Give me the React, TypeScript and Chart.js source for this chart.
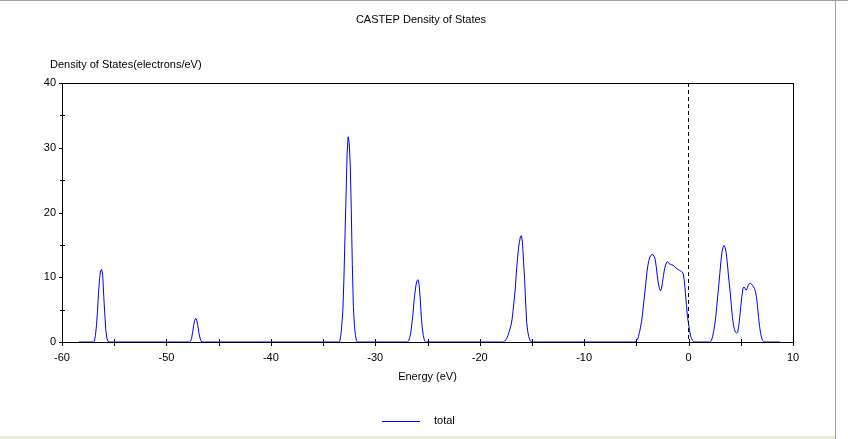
import React, { useEffect, useRef } from "react";
import { Chart, registerables } from "chart.js";

Chart.register(...registerables);

// ---- text ----
const chartTitle = "CASTEP Density of States";
const yAxisTitle = "Density of States(electrons/eV)";
const xAxisTitle = "Energy (eV)";
const seriesName = "total";

// ---- axes ----
const xMin = -60;
const xMax = 10;
const yMin = 0;
const yMax = 40;
const xMajorStep = 10;
const xMinorStep = 5;
const yMajorStep = 10;
const yMinorStep = 5;
const fermiLevel = 0;

// ---- data: [energy (eV), DOS (electrons/eV)] ----
const leadIn = [[-58.4, 0]];
const band1 = [
  [-57.0, 0], [-56.9, 0.1], [-56.8, 1.0], [-56.7, 2.5], [-56.6, 4.8], [-56.5, 7.6],
  [-56.4, 9.8], [-56.3, 11.0], [-56.2, 11.2], [-56.1, 10.3], [-56.0, 7.0], [-55.9, 4.2],
  [-55.8, 1.8], [-55.7, 0.6], [-55.6, 0.1], [-55.5, 0],
];
const band2 = [
  [-47.8, 0], [-47.7, 0.1], [-47.6, 0.5], [-47.5, 1.4], [-47.4, 2.5], [-47.3, 3.3],
  [-47.2, 3.66], [-47.1, 3.4], [-47.0, 2.6], [-46.9, 1.5], [-46.8, 0.7], [-46.7, 0.2], [-46.6, 0],
];
const band3 = [
  [-33.5, 0], [-33.4, 0.1], [-33.3, 1.0], [-33.2, 2.7], [-33.1, 5.0], [-33.0, 10.0],
  [-32.9, 16.5], [-32.8, 22.5], [-32.7, 29.0], [-32.6, 31.7], [-32.5, 30.8], [-32.4, 27.5],
  [-32.3, 20.5], [-32.2, 12.0], [-32.1, 5.5], [-32.0, 2.6], [-31.9, 1.0], [-31.8, 0.2], [-31.7, 0],
];
const band4 = [
  [-27.0, 0], [-26.9, 0.05], [-26.8, 0.2], [-26.7, 0.7], [-26.6, 1.4], [-26.5, 2.8],
  [-26.4, 4.2], [-26.3, 6.2], [-26.2, 7.6], [-26.1, 8.8], [-26.0, 9.5], [-25.9, 9.6],
  [-25.8, 8.8], [-25.7, 6.8], [-25.6, 4.0], [-25.5, 2.2], [-25.4, 1.0], [-25.3, 0.3],
  [-25.2, 0.05], [-25.1, 0],
];
const band5 = [
  [-17.8, 0], [-17.7, 0.05], [-17.6, 0.15], [-17.5, 0.35], [-17.4, 0.6], [-17.3, 1.0],
  [-17.2, 1.5], [-17.1, 2.0], [-17.0, 2.6], [-16.9, 3.5], [-16.8, 4.9], [-16.7, 6.5],
  [-16.6, 8.2], [-16.5, 10.5], [-16.4, 12.5], [-16.3, 14.3], [-16.2, 15.4], [-16.1, 16.3],
  [-16.0, 16.4], [-15.9, 15.3], [-15.8, 12.3], [-15.7, 9.8], [-15.6, 6.0], [-15.5, 3.0],
  [-15.4, 1.6], [-15.3, 0.8], [-15.2, 0.3], [-15.1, 0.05], [-15.0, 0],
];
const band6 = [
  [-5.2, 0], [-5.1, 0.05], [-5.0, 0.2], [-4.9, 0.4], [-4.8, 0.8], [-4.7, 1.5], [-4.6, 2.3],
  [-4.5, 3.2], [-4.4, 4.5], [-4.3, 6.0], [-4.2, 7.4], [-4.1, 9.0], [-4.0, 10.6], [-3.9, 11.8],
  [-3.8, 12.6], [-3.7, 13.1], [-3.6, 13.4], [-3.5, 13.5], [-3.4, 13.5], [-3.3, 13.2],
  [-3.2, 12.8], [-3.1, 11.7], [-3.0, 10.3], [-2.9, 9.1], [-2.8, 8.3], [-2.7, 7.9], [-2.6, 8.2],
  [-2.5, 9.2], [-2.4, 10.3], [-2.3, 11.3], [-2.2, 11.9], [-2.1, 12.3], [-2.0, 12.4],
  [-1.9, 12.2], [-1.8, 12.0], [-1.7, 12.0], [-1.6, 11.9], [-1.5, 11.9], [-1.4, 11.7],
  [-1.3, 11.6], [-1.2, 11.4], [-1.1, 11.3], [-1.0, 11.2], [-0.9, 11.1], [-0.8, 11.0],
  [-0.7, 10.9], [-0.6, 10.8], [-0.5, 10.5], [-0.4, 9.3], [-0.3, 7.5], [-0.2, 5.6],
  [-0.1, 3.8], [0.0, 2.8], [0.1, 1.7], [0.2, 0.9], [0.3, 0.5], [0.4, 0.2], [0.5, 0.05], [0.6, 0],
];
const band7 = [
  [2.0, 0], [2.1, 0.05], [2.2, 0.3], [2.3, 0.8], [2.4, 1.6], [2.5, 2.6], [2.6, 3.9],
  [2.7, 5.5], [2.8, 7.2], [2.9, 8.9], [3.0, 10.7], [3.1, 12.5], [3.2, 13.9], [3.3, 14.6],
  [3.4, 14.9], [3.5, 14.6], [3.6, 13.8], [3.7, 12.4], [3.8, 10.6], [3.9, 9.0], [4.0, 7.4],
  [4.1, 5.6], [4.2, 3.8], [4.3, 2.6], [4.4, 1.9], [4.5, 1.5], [4.6, 1.35], [4.7, 1.5],
  [4.8, 2.4], [4.9, 3.8], [5.0, 5.5], [5.1, 7.0], [5.2, 8.2], [5.3, 8.5], [5.4, 8.3],
  [5.5, 8.0], [5.6, 8.2], [5.7, 8.7], [5.8, 9.0], [5.9, 9.1], [6.0, 9.0], [6.1, 8.8],
  [6.2, 8.6], [6.3, 8.3], [6.4, 7.8], [6.5, 7.0], [6.6, 5.6], [6.7, 3.8], [6.8, 2.4],
  [6.9, 1.3], [7.0, 0.6], [7.1, 0.25], [7.2, 0.05], [7.3, 0],
];
const leadOut = [[8.75, 0]];

const FONT_FAMILY = "'Liberation Sans', Arial, sans-serif";
const FONT = "11px " + FONT_FAMILY;
const LINE_COLOR = "#0000ff";

const decorPlugin = {
  id: "decor",
  beforeDraw(chart: any) {
    const { ctx, width, height } = chart;
    ctx.save();
    ctx.fillStyle = "#ffffff";
    ctx.fillRect(0, 0, width, height);
    // window frame
    ctx.fillStyle = "#ece9d8";
    ctx.fillRect(0, height - 3, 836, 3);
    ctx.strokeStyle = "#a0a0a0";
    ctx.lineWidth = 1;
    ctx.beginPath();
    ctx.moveTo(0, 0.5);
    ctx.lineTo(width, 0.5);
    ctx.moveTo(835.5, 0);
    ctx.lineTo(835.5, height);
    ctx.stroke();
    ctx.restore();
  },
  beforeDatasetsDraw(chart: any) {
    const { ctx, chartArea } = chart;
    const xs = chart.scales.x;
    const ys = chart.scales.y;
    const { left, right, top, bottom } = chartArea;
    ctx.save();
    ctx.strokeStyle = "#000000";
    ctx.lineWidth = 1;
    // plot frame
    ctx.strokeRect(Math.round(left) + 0.5, Math.round(top) + 0.5, Math.round(right - left), Math.round(bottom - top));
    // x ticks
    ctx.beginPath();
    for (let v = xMin; v <= xMax; v += xMinorStep) {
      const px = Math.round(xs.getPixelForValue(v)) + 0.5;
      ctx.moveTo(px, Math.round(bottom) - 3);
      ctx.lineTo(px, Math.round(bottom) + 4);
    }
    // y ticks
    for (let v = yMin; v <= yMax; v += yMinorStep) {
      const py = Math.round(ys.getPixelForValue(v)) + 0.5;
      const major = v % yMajorStep === 0;
      ctx.moveTo(Math.round(left) - (major ? 3 : 2), py);
      ctx.lineTo(Math.round(left) + (major ? 0 : 3), py);
    }
    ctx.stroke();
    ctx.restore();
  },
  afterDraw(chart: any) {
    const { ctx, chartArea } = chart;
    const xs = chart.scales.x;
    const { left, right, top, bottom } = chartArea;
    ctx.save();
    // Fermi level dashed line
    const fx = Math.round(xs.getPixelForValue(fermiLevel)) - 0.5;
    ctx.strokeStyle = "#000000";
    ctx.lineWidth = 1;
    ctx.setLineDash([4, 3]);
    ctx.beginPath();
    ctx.moveTo(fx, Math.round(top));
    ctx.lineTo(fx, Math.round(bottom));
    ctx.stroke();
    ctx.setLineDash([]);

    ctx.fillStyle = "#000000";
    ctx.font = FONT;
    ctx.textBaseline = "middle";
    ctx.textAlign = "center";
    ctx.fillText(chartTitle, 421, 20);
    ctx.fillText(xAxisTitle, (left + right) / 2, 377);
    ctx.textAlign = "left";
    ctx.fillText(yAxisTitle, 50, 65);
    ctx.fillText(seriesName, 434, 421);

    // legend line
    ctx.fillStyle = LINE_COLOR;
    ctx.fillRect(382, 421, 38, 1);
    ctx.restore();
  },
};

export default function App() {
  const canvasRef = useRef<HTMLCanvasElement | null>(null);

  useEffect(() => {
    document.body.style.margin = "0";
    const canvas = canvasRef.current;
    if (!canvas) return;
    const points = [...leadIn, ...band1, ...band2, ...band3, ...band4, ...band5, ...band6, ...band7, ...leadOut].map(
      ([x, y]) => ({ x, y })
    );
    const chart = new Chart(canvas, {
      type: "line",
      data: {
        datasets: [
          {
            label: seriesName,
            data: points,
            borderColor: LINE_COLOR,
            backgroundColor: LINE_COLOR,
            borderWidth: 1,
            pointRadius: 0,
            tension: 0,
            fill: false,
          },
        ],
      },
      options: {
        animation: false,
        responsive: true,
        maintainAspectRatio: false,
        events: [],
        layout: { padding: { top: 83, right: 55, bottom: 0, left: 0 } },
        plugins: {
          legend: { display: false },
          title: { display: false },
          tooltip: { enabled: false },
        },
        scales: {
          x: {
            type: "linear",
            min: xMin,
            max: xMax,
            afterFit: (scale: any) => {
              scale.height = 97;
            },
            border: { display: true, color: "#000000", width: 1 },
            grid: { display: false, drawTicks: false },
            ticks: {
              stepSize: xMajorStep,
              color: "#000000",
              font: { family: FONT_FAMILY, size: 11 },
              padding: 9,
              maxRotation: 0,
              autoSkip: false,
            },
          },
          y: {
            type: "linear",
            min: yMin,
            max: yMax,
            afterFit: (scale: any) => {
              scale.width = 62;
            },
            border: { display: true, color: "#000000", width: 1 },
            grid: { display: false, drawTicks: false },
            ticks: {
              stepSize: yMajorStep,
              color: "#000000",
              font: { family: FONT_FAMILY, size: 11 },
              padding: 6,
            },
          },
        },
      },
      plugins: [decorPlugin],
    });
    return () => chart.destroy();
  }, []);

  return (
    <div style={{ position: "fixed", left: 0, top: 0, width: 848, height: 439 }}>
      <canvas ref={canvasRef} />
    </div>
  );
}
